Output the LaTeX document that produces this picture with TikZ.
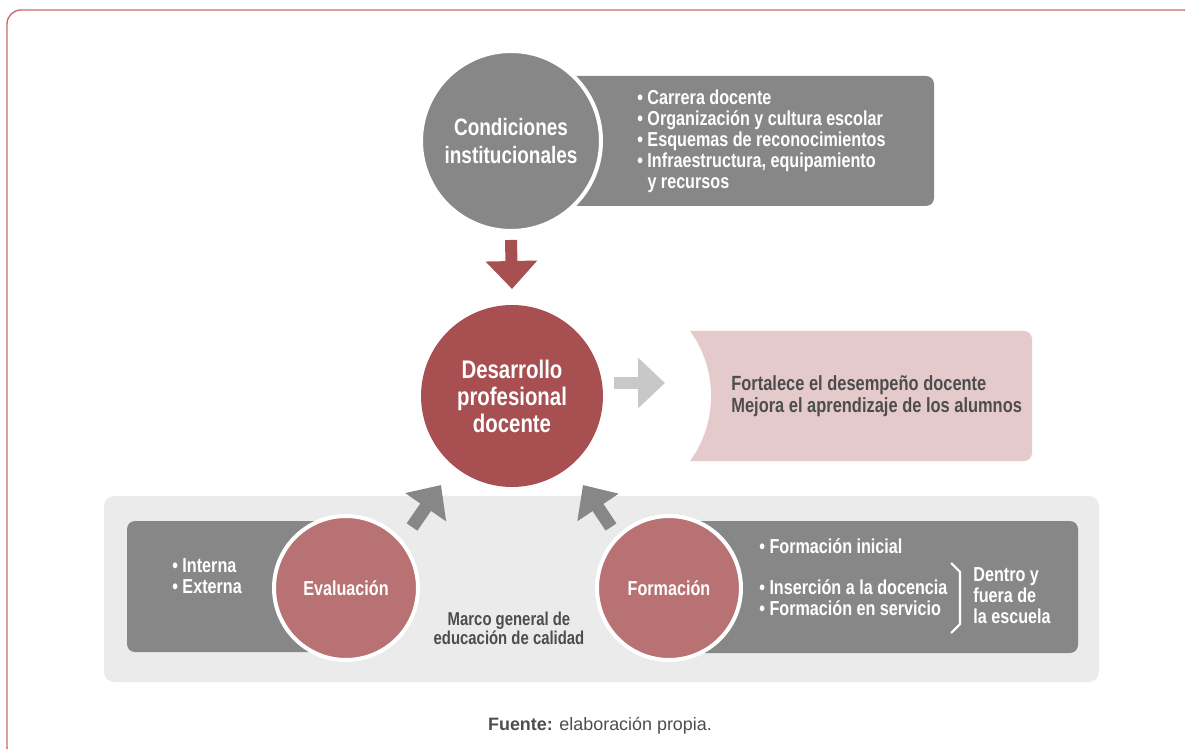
\documentclass[tikz,border=0pt]{standalone}
\usepackage{fontspec}
\setmainfont{Liberation Sans}
\newfontfamily\cond[FakeStretch=0.8]{Liberation Sans}
\usetikzlibrary{arrows.meta}
\definecolor{dgray}{HTML}{878787}
\definecolor{lgray}{HTML}{EBEBEB}
\definecolor{dred}{HTML}{A84F52}
\definecolor{mred}{HTML}{B87273}
\definecolor{pinkbg}{HTML}{E5CACB}
\definecolor{arrgray}{HTML}{C8C8C8}
\definecolor{txtgray}{HTML}{4D4D4D}
\definecolor{framecol}{HTML}{CD6B70}
\begin{document}
\begin{tikzpicture}[x=0.02cm,y=-0.02cm,
  ring/.style={circle, draw=white, line width=0.08cm, inner sep=0pt, text=white, align=center, font=\cond\bfseries},
  wtext/.style={text=white, align=left, inner sep=0pt, font=\cond\bfseries\fontsize{11.5}{12}\selectfont},
  gtext/.style={text=txtgray, inner sep=0pt, font=\cond\bfseries\fontsize{11.7}{12.5}\selectfont},
]
\useasboundingbox (0,0) rectangle (1185,749);
\begin{scope}
\clip (0,0) rectangle (1185,749);
\draw[framecol, line width=0.8pt, rounded corners=0.28cm] (7,10) rectangle (1197,761);
\end{scope}

% top block
\fill[dgray, rounded corners=0.16cm] (520,76) rectangle (934,206);
\node[ring, fill=dgray, minimum size=3.6cm, font=\cond\bfseries\fontsize{13.5}{15.9}\selectfont] (cond) at (511,141) {Condiciones\\institucionales};
\node[wtext, anchor=west] (condlist) at (637,141.5) {• Carrera docente\\• Organización y cultura escolar\\• Esquemas de reconocimientos\\• Infraestructura, equipamiento\\\phantom{• }y recursos};

% pink result box
\fill[pinkbg, rounded corners=0.16cm] (650,331) rectangle (1032,461);
\begin{scope}
\clip (640,325) rectangle (1040,470);
\fill[white] (600,396) circle[radius=2.22cm];
\end{scope}
\node[gtext, anchor=west, align=left] (res) at (731,396) {Fortalece el desempeño docente\\Mejora el aprendizaje de los alumnos};

% central circle
\node[ring, draw=none, fill=dred, minimum size=3.64cm, font=\cond\bfseries\fontsize{14.5}{15.4}\selectfont] (des) at (512,396) {Desarrollo\\profesional\\docente};

% arrows top
\draw[dred, line width=0.24cm, -{Triangle[width=1.0cm,length=0.56cm]}] ([yshift=-0.14cm]cond.south) -- ([yshift=0.28cm]des.north);
\coordinate (ra0) at (614,383);
\coordinate (ra1) at (665,383);
\draw[arrgray, line width=0.24cm, -{Triangle[width=0.98cm,length=0.54cm]}] (ra0) -- (ra1);

% bottom panel
\fill[lgray, rounded corners=0.2cm] (104,496) rectangle (1099,682);
\fill[dgray, rounded corners=0.16cm] (127,521) rectangle (346,652);
\fill[dgray, rounded corners=0.16cm] (670,521) rectangle (1078,653);

\node[ring, fill=mred, minimum size=2.88cm, font=\cond\bfseries\fontsize{11.5}{12}\selectfont] (eval) at (346,588) {Evaluación};
\node[ring, fill=mred, minimum size=2.88cm, font=\cond\bfseries\fontsize{11.5}{12}\selectfont] (form) at (669,588) {Formación};

\node[wtext, anchor=west] (evlist) at (172,576.5) {• Interna\\• Externa};
\node[gtext, align=center, font=\cond\bfseries\fontsize{10.6}{10.9}\selectfont] (marco) at (509,628) {Marco general de\\educación de calidad};

\node[wtext, anchor=west] (formlist) at (759,577) {• Formación inicial\\[11.4pt]• Inserción a la docencia\\• Formación en servicio};
\coordinate (br0) at (951,563);
\coordinate (br1) at (951,633);
\draw[white, line width=1.2pt, line join=miter] (br0) -- ++(9,9) -- ++(0,52) -- (br1);
\node[wtext, anchor=west] (dentro) at (973,596) {Dentro y\\fuera de\\la escuela};

% up arrows
\coordinate (la0) at (412,527);
\coordinate (la1) at (441,485);
\coordinate (rb0) at (611,527);
\coordinate (rb1) at (583,485);
\draw[dgray, line width=0.26cm, -{Triangle[width=0.96cm,length=0.54cm]}] (la0) -- (la1);
\draw[dgray, line width=0.26cm, -{Triangle[width=0.96cm,length=0.54cm]}] (rb0) -- (rb1);

% caption
\node[text=txtgray, font=\fontsize{10.2}{12}\selectfont, inner sep=0pt] (cap) at (600,726) {\textbf{Fuente:} elaboración propia.};
\end{tikzpicture}
\end{document}
